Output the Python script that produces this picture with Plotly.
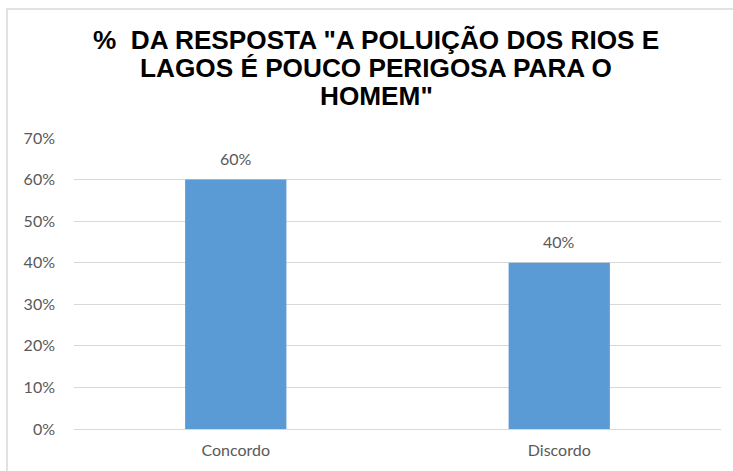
import plotly.graph_objects as go

# Survey answers and their shares
categories = ["Concordo", "Discordo"]
shares = [0.60, 0.40]
y_ticks = [0, 0.1, 0.2, 0.3, 0.4, 0.5, 0.6, 0.7]
y_tick_labels = ["0%", "10%", "20%", "30%", "40%", "50%", "60%", "70%"]
title_lines = [
    '%\u00a0 DA RESPOSTA "A POLUIÇÃO DOS RIOS E',
    'LAGOS É POUCO PERIGOSA PARA O',
    'HOMEM"',
]

BAR_COLOR = "#5B9BD5"
TEXT_GRAY = "#595959"
GRID = "#D9D9D9"
LABEL_FONT = "Lato, Carlito, Calibri, sans-serif"
TITLE_FONT = "Liberation Sans Narrow, Arial Narrow, Liberation Sans, sans-serif"

fig = go.Figure(
    go.Bar(
        x=categories,
        y=shares,
        marker=dict(color=BAR_COLOR, line=dict(width=0)),
        width=0.313,
        hoverinfo="skip",
    )
)

# value labels above each bar
for cat, val in zip(categories, shares):
    fig.add_annotation(
        x=cat, y=val, xref="x", yref="y",
        text=f"{val:.0%}", showarrow=False,
        yanchor="middle", yshift=21,
        font=dict(family=LABEL_FONT, size=16, color=TEXT_GRAY),
    )

# chart title, one line per annotation for tight line spacing
title_top, title_step = 1.337, 0.0962
for i, line in enumerate(title_lines):
    fig.add_annotation(
        x=0.4668, y=title_top - i * title_step, xref="paper", yref="paper",
        text=f"<b>{line}</b>", showarrow=False,
        xanchor="center", yanchor="middle", align="center",
        font=dict(family=TITLE_FONT, size=26.2, color="#000000"),
    )

# chart frame
fig.add_shape(
    type="rect", xref="paper", yref="paper",
    x0=-0.1036, y0=-0.5, x1=1.2, y1=1.443,
    line=dict(color=GRID, width=1.5), fillcolor="rgba(0,0,0,0)",
)

fig.update_layout(
    width=733, height=471,
    margin=dict(l=74, r=12, t=138, b=42),
    paper_bgcolor="white", plot_bgcolor="white",
    showlegend=False,
    bargap=0.687,
    xaxis=dict(
        showgrid=False, showline=False, zeroline=False,
        ticks="", tickfont=dict(family=LABEL_FONT, size=16, color=TEXT_GRAY),
        ticklabelstandoff=10,
    ),
    yaxis=dict(
        range=[0, 0.7], tickvals=y_ticks, ticktext=y_tick_labels,
        showgrid=True, gridcolor=GRID, gridwidth=1,
        zeroline=True, zerolinecolor=GRID, zerolinewidth=1,
        showline=False, ticks="",
        tickfont=dict(family=LABEL_FONT, size=16, color=TEXT_GRAY),
        ticklabelstandoff=18,
    ),
)

fig.write_html("out.html")
